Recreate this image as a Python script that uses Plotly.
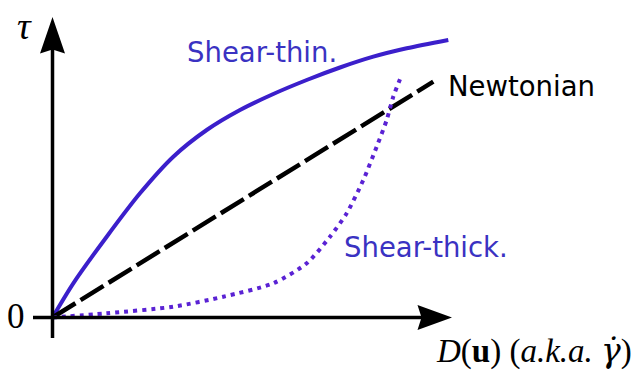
import plotly.graph_objects as go

# Flow curves: shear stress (tau) versus rate of deformation D(u), arbitrary units
thin_x = [0, 20.8, 54.2, 87.5, 120.8, 154.2, 187.5, 220.8, 254.2, 287.5, 320.8, 354.2, 395.8]
thin_y = [0, 34.2, 80.8, 124.2, 160.8, 187.5, 207.5, 223.5, 237.5, 250.0, 260.8, 269.2, 277.5]

newton_x = [0, 380.8]
newton_y = [0, 235.8]

thick_x = [0, 54.2, 120.8, 170.8, 220.8, 254.2, 277.5, 294.2, 310.8, 324.2, 334.2, 340.8, 349.2]
thick_y = [0, 4.2, 10.8, 20.8, 34.2, 54.2, 80.8, 104.2, 137.5, 170.8, 197.5, 220.8, 242.5]

LINE_BLUE = "#3b1fcb"
DOT_BLUE = "#5a22d4"
TEXT_BLUE = "#3a32c2"

fig = go.Figure()

fig.add_trace(go.Scatter(x=thin_x, y=thin_y, mode="lines",
                         line=dict(color=LINE_BLUE, width=4, shape="spline", smoothing=0.8),
                         hoverinfo="skip"))
fig.add_trace(go.Scatter(x=newton_x, y=newton_y, mode="lines",
                         line=dict(color="black", width=4.5, dash="27px,6px"),
                         hoverinfo="skip"))
fig.add_trace(go.Scatter(x=thick_x, y=thick_y, mode="lines",
                         line=dict(color=DOT_BLUE, width=4, dash="4px,5px", shape="spline", smoothing=0.7),
                         hoverinfo="skip"))

# Axes with arrowheads
shapes = [
    dict(type="line", x0=-19.5, y0=0, x1=375, y1=0, line=dict(color="black", width=3.5)),
    dict(type="line", x0=0, y0=-20.5, x1=0, y1=275, line=dict(color="black", width=3.5)),
    dict(type="path", path="M 0 300.5 L -12.5 264 L 0 268 L 12.5 264 Z",
         fillcolor="black", line=dict(color="black", width=0)),
    dict(type="path", path="M 399.5 0 L 365 12.5 L 369 0 L 365 -12.5 Z",
         fillcolor="black", line=dict(color="black", width=0)),
]

serif = "Liberation Serif"
sans = "DejaVu Sans"
x_label = ("<i>D</i>(<b>u</b>) (<i>a.k.a.</i> "
           "<span style=\"font-family:'DejaVu Serif'\"><i>γ̇</i></span>)")
annotations = [
    dict(x=-28.5, y=292, text="<i>τ</i>", showarrow=False, xanchor="center", yanchor="middle",
         font=dict(family=serif, size=38, color="black")),
    dict(x=-36.5, y=1, text="0", showarrow=False, xanchor="center", yanchor="middle",
         font=dict(family=serif, size=35, color="black")),
    dict(x=581.5, y=-33, text=x_label, showarrow=False,
         xanchor="right", yanchor="middle",
         font=dict(family=serif, size=33, color="black")),
    dict(x=132, y=266, text="Shear-thin.", showarrow=False, xanchor="left", yanchor="middle",
         font=dict(family=sans, size=27.5, color=TEXT_BLUE)),
    dict(x=289, y=71, text="Shear-thick.", showarrow=False, xanchor="left", yanchor="middle",
         font=dict(family=sans, size=27.5, color=TEXT_BLUE)),
    dict(x=393, y=231.5, text="Newtonian", showarrow=False, xanchor="left", yanchor="middle",
         font=dict(family=sans, size=27.5, color="black")),
]

fig.update_layout(
    width=636, height=370,
    margin=dict(l=0, r=0, t=0, b=0),
    paper_bgcolor="white", plot_bgcolor="white",
    showlegend=False,
    shapes=shapes,
    annotations=annotations,
    xaxis=dict(range=[-52.5, 583.5], visible=False, fixedrange=True),
    yaxis=dict(range=[-52.5, 317.5], visible=False, fixedrange=True),
)

fig.write_html("out.html")
